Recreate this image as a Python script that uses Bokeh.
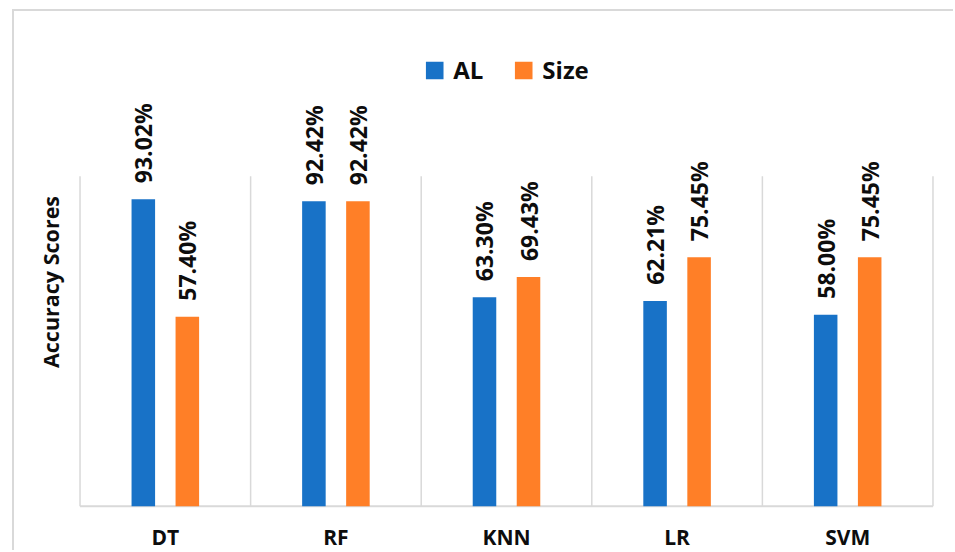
import numpy as np
from bokeh.plotting import figure
from bokeh.models import ColumnDataSource, Range1d, Legend, LegendItem, FixedTicker
from bokeh.core.properties import value
from bokeh.embed import file_html
from bokeh.resources import INLINE

# Accuracy of each classifier for the two feature sets
models = ["DT", "RF", "KNN", "LR", "SVM"]
al_scores = [93.02, 92.42, 63.30, 62.21, 58.00]
size_scores = [57.40, 92.42, 69.43, 75.45, 75.45]
series_names = ["AL", "Size"]
series_colors = ["#1872C7", "#FF7F27"]

FONT = "Open Sans"
TEXT_COLOR = "#0d0d0d"
GRID_COLOR = "#d9d9d9"
BAR_WIDTH = 0.138
DODGE = 0.129
LABEL_GAP = 4.85      # gap between bar top and its value label, in % units
CAT_LABEL_Y = -9.2    # baseline of the category names, in % units
Y_MAX = 100

centers = np.arange(len(models)) + 0.5

p = figure(
    width=941, height=541,
    x_range=Range1d(-0.05, len(models) + 0.05),
    y_range=Range1d(-14.04, 149.9),
    output_backend="svg", toolbar_location=None,
    x_axis_location=None,
    min_border_left=57, min_border_right=14,
    min_border_top=0, min_border_bottom=0,
)
p.margin = (9, 0, 0, 12)
p.styles = {"border-top": f"2px solid {GRID_COLOR}", "border-left": f"2px solid {GRID_COLOR}"}
p.background_fill_color = "white"
p.border_fill_color = "white"
p.outline_line_color = None
p.xgrid.visible = False
p.ygrid.visible = False

# y axis carries only its title
yax = p.yaxis[0]
yax.ticker = FixedTicker(ticks=[])
yax.axis_line_color = None
yax.major_tick_line_color = None
yax.minor_tick_line_color = None
yax.major_label_text_font_size = "0px"
yax.axis_label = "Accuracy Scores"
yax.axis_label_text_font = FONT
yax.axis_label_text_font_style = "bold"
yax.axis_label_text_font_size = "21.5px"
yax.axis_label_text_color = TEXT_COLOR
yax.axis_label_standoff = 7

# category separators and baseline
bounds = np.arange(len(models) + 1)
p.segment(x0=bounds, y0=0, x1=bounds, y1=Y_MAX, line_color=GRID_COLOR, line_width=1.5)
p.segment(x0=[0], y0=[0], x1=[len(models)], y1=[0], line_color=GRID_COLOR, line_width=2)

renderers = []
for scores, name, color, shift in zip([al_scores, size_scores], series_names, series_colors, [-DODGE, DODGE]):
    src = ColumnDataSource(dict(
        x=centers + shift,
        top=scores,
        label_y=np.array(scores) + LABEL_GAP,
        text=[f"{v:.2f}%" for v in scores],
    ))
    r = p.vbar(x="x", top="top", bottom=0, width=BAR_WIDTH, source=src,
               fill_color=color, line_color=None)
    renderers.append(r)
    p.text(x="x", y="label_y", text="text", source=src, angle=np.pi / 2,
           text_align="left", text_baseline="middle",
           text_font=value(FONT), text_font_style="bold", text_font_size="23px",
           text_color=TEXT_COLOR)

# category names under the baseline
cat_src = ColumnDataSource(dict(x=centers, y=[CAT_LABEL_Y] * len(models), text=models))
p.text(x="x", y="y", text="text", source=cat_src,
       text_align="center", text_baseline="alphabetic",
       text_font=value(FONT), text_font_style="bold", text_font_size="21px",
       text_color=TEXT_COLOR)

legend = Legend(
    items=[LegendItem(label=n, renderers=[r]) for n, r in zip(series_names, renderers)],
    location="top_center", orientation="horizontal",
    glyph_width=22, glyph_height=22, label_standoff=8, spacing=29,
    padding=0, margin=42, border_line_color=None, background_fill_alpha=0,
    label_text_font=FONT, label_text_font_style="bold", label_text_font_size="24px",
    label_text_color=TEXT_COLOR,
)
p.add_layout(legend, "center")

open("out.html", "w").write(file_html(p, INLINE))
